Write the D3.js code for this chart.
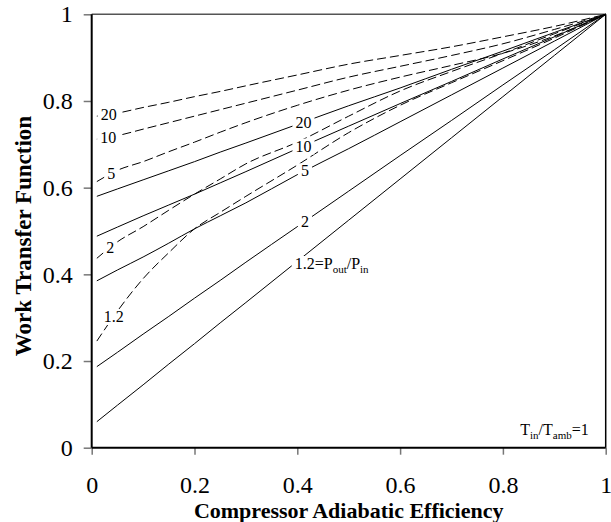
<!DOCTYPE html>
<html>
<head>
<meta charset="utf-8">
<script src="https://cdn.jsdelivr.net/npm/d3@7"></script>
<style>
  body { margin: 0; background: #fff; }
  text { font-family: "Liberation Serif", "Times New Roman", serif; fill: #000; }
</style>
</head>
<body>
<div id="chart-area"></div>
<script>
// compressor adiabatic efficiency vs work transfer function

var xGrid = [0.01, 0.05, 0.1, 0.15, 0.2, 0.25, 0.3, 0.4, 0.5, 0.6, 0.7, 0.8, 0.9, 1.0];
var ratios = ["20", "10", "5", "2", "1.2"];

// solid curves, one per pressure ratio
var solid20  = [0.580, 0.597, 0.618, 0.639, 0.660, 0.682, 0.703, 0.746, 0.789, 0.830, 0.873, 0.915, 0.958, 1];
var solid10  = [0.488, 0.509, 0.535, 0.560, 0.585, 0.611, 0.637, 0.690, 0.742, 0.794, 0.845, 0.897, 0.948, 1];
var solid5   = [0.385, 0.410, 0.440, 0.472, 0.505, 0.535, 0.565, 0.630, 0.690, 0.752, 0.814, 0.876, 0.938, 1];
var solid2   = [0.187, 0.220, 0.262, 0.303, 0.345, 0.386, 0.428, 0.510, 0.592, 0.674, 0.755, 0.837, 0.918, 1];
var solid1_2 = [0.060, 0.098, 0.145, 0.193, 0.240, 0.288, 0.335, 0.430, 0.525, 0.620, 0.715, 0.810, 0.905, 1];

// dashed curves
var dash20  = [0.765, 0.772, 0.785, 0.797, 0.810, 0.822, 0.835, 0.860, 0.885, 0.905, 0.925, 0.948, 0.972, 1];
var dash10  = [0.712, 0.720, 0.735, 0.750, 0.765, 0.780, 0.795, 0.825, 0.855, 0.880, 0.905, 0.932, 0.965, 1];
var dash5   = [0.614, 0.640, 0.660, 0.683, 0.705, 0.728, 0.750, 0.790, 0.825, 0.855, 0.882, 0.910, 0.950, 1];
var dash2   = [0.437, 0.475, 0.510, 0.548, 0.585, 0.620, 0.655, 0.705, 0.765, 0.823, 0.868, 0.910, 0.955, 1];
var dash1_2 = [0.246, 0.315, 0.390, 0.450, 0.505, 0.543, 0.580, 0.652, 0.727, 0.790, 0.842, 0.893, 0.945, 1];

var xTicks = [0, 0.2, 0.4, 0.6, 0.8, 1];
var xTickLabels = ["0", "0.2", "0.4", "0.6", "0.8", "1"];
var yTicks = [0, 0.2, 0.4, 0.6, 0.8, 1];
var yTickLabels = ["0", "0.2", "0.4", "0.6", "0.8", "1"];

var solidSeries = [solid20, solid10, solid5, solid2, solid1_2];
var dashSeries = [dash20, dash10, dash5, dash2, dash1_2];

var serif = "Liberation Serif, Times New Roman, serif";
var svgWidth = 611, svgHeight = 522;
var margin = {top: 14.3, left: 91.7};
var chartWidth = 514, chartHeight = 433.4;

var svg = d3.select("#chart-area").append("svg").attr("width", svgWidth).attr("height", svgHeight)
    .attr("font-family", serif);
var g = svg.append("g").attr("transform", "translate(" + margin.left + "," + margin.top + ")");

var x = d3.scaleLinear().domain([0, 1]).range([0, chartWidth]);
var y = d3.scaleLinear().domain([0, 1]).range([chartHeight, 0]);

// axes
var xAxis = d3.axisBottom(x).tickValues(xTicks).tickSize(7).tickPadding(21)
    .tickFormat((d, i) => xTickLabels[i]);
var yAxis = d3.axisLeft(y).tickValues(yTicks).tickSize(8).tickPadding(11)
    .tickFormat((d, i) => yTickLabels[i]);

var gx = g.append("g").attr("transform", "translate(0," + chartHeight + ")").call(xAxis);
var gy = g.append("g").call(yAxis);
[gx, gy].forEach((a) => {
    a.attr("font-family", serif).attr("font-size", "24px");
    a.select(".domain").remove();
    a.selectAll(".tick line").attr("stroke", "#777").attr("stroke-width", 1.5);
    a.selectAll(".tick text").attr("font-size", "24px").attr("font-family", serif);
});

// frame
g.append("line").attr("x1", 0).attr("x2", chartWidth).attr("y1", 0).attr("y2", 0)
    .attr("stroke", "#555").attr("stroke-width", 1.5);
g.append("line").attr("x1", chartWidth).attr("x2", chartWidth).attr("y1", 0).attr("y2", chartHeight)
    .attr("stroke", "#000").attr("stroke-width", 1.5);
g.append("line").attr("x1", 0).attr("x2", 0).attr("y1", 0).attr("y2", chartHeight)
    .attr("stroke", "#000").attr("stroke-width", 2);
g.append("line").attr("x1", 0).attr("x2", chartWidth).attr("y1", chartHeight).attr("y2", chartHeight)
    .attr("stroke", "#000").attr("stroke-width", 2);

var line = d3.line().x((d, i) => x(xGrid[i])).y((d) => y(d)).curve(d3.curveMonotoneX);

var lines = g.append("g").attr("fill", "none").attr("stroke", "#000").attr("stroke-width", 1);
solidSeries.forEach((s) => { lines.append("path").attr("d", line(s)); });
dashSeries.forEach((s) => { lines.append("path").attr("d", line(s)).attr("stroke-dasharray", "9,4"); });

// labels sit on the curves with a white box behind them
function valueAt(series, xv) {
    return d3.scaleLinear().domain(xGrid).range(series)(xv);
}

var labels = g.append("g");
function addLabel(series, xv, anchor, build) {
    var t = labels.append("text").attr("x", x(xv)).attr("y", y(valueAt(series, xv)))
        .attr("dy", "0.35em").attr("text-anchor", anchor).attr("font-size", "16px");
    build(t);
    var b = t.node().getBBox();
    labels.insert("rect", function() { return t.node(); })
        .attr("x", b.x - 3).attr("y", b.y + 1).attr("width", b.width + 6).attr("height", b.height - 1)
        .attr("fill", "#fff");
}

var dashLabelX = [0.033, 0.032, 0.038, 0.036, 0.043];
var solidLabelX = [0.412, 0.412, 0.415, 0.415, 0.395];

dashSeries.forEach((s, i) => {
    addLabel(s, dashLabelX[i], "middle", (t) => t.text(ratios[i]));
});
solidSeries.forEach((s, i) => {
    if (i < 4) {
        addLabel(s, solidLabelX[i], "middle", (t) => t.text(ratios[i]));
    } else {
        addLabel(s, solidLabelX[i], "start", (t) => {
            t.append("tspan").text(ratios[i] + "=P");
            t.append("tspan").attr("font-size", "11px").attr("dy", 4).text("out");
            t.append("tspan").attr("dy", -4).text("/P");
            t.append("tspan").attr("font-size", "11px").attr("dy", 4).text("in");
        });
    }
});

// temperature ratio note
var note = g.append("text").attr("x", x(0.967)).attr("y", chartHeight - 13)
    .attr("text-anchor", "end").attr("font-size", "16px");
note.append("tspan").text("T");
note.append("tspan").attr("font-size", "11px").attr("dy", 4).text("in");
note.append("tspan").attr("dy", -4).text("/T");
note.append("tspan").attr("font-size", "11px").attr("dy", 4).text("amb");
note.append("tspan").attr("dy", -4).text("=1");

// axis titles
svg.append("text").attr("x", margin.left + chartWidth / 2).attr("y", 518)
    .attr("text-anchor", "middle").attr("font-size", "22px").attr("font-weight", "bold")
    .text("Compressor Adiabatic Efficiency");

svg.append("text").attr("transform", "translate(31,236) rotate(-90)")
    .attr("text-anchor", "middle").attr("font-size", "23px").attr("font-weight", "bold")
    .text("Work Transfer Function");
</script>
</body>
</html>
